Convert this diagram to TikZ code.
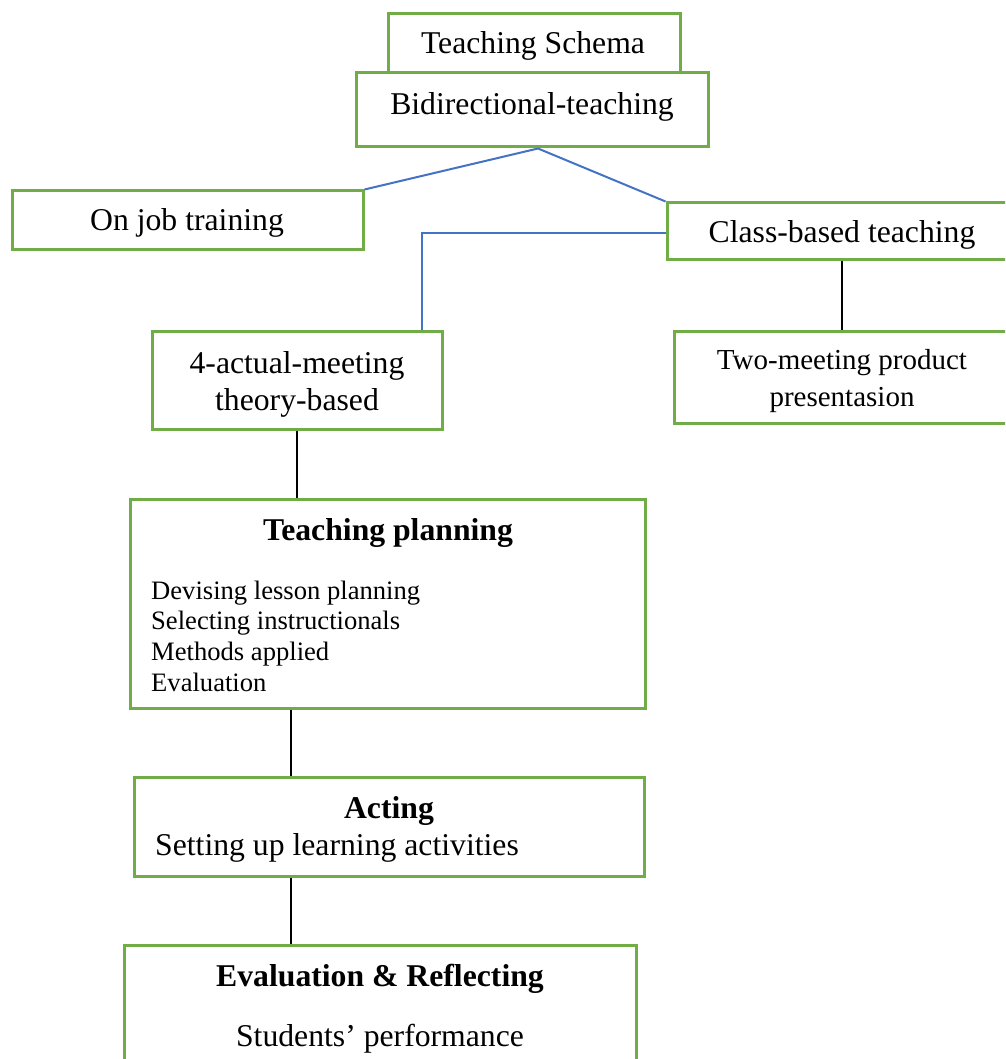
\documentclass[tikz,border=0pt]{standalone}
\usepackage{fontspec}
\setmainfont{Liberation Serif}
\definecolor{boxgreen}{RGB}{112,173,71}
\definecolor{linkblue}{RGB}{68,114,196}
\newcommand\mainfs{\fontsize{31.7}{37}\selectfont}
\newcommand\twofs{\fontsize{29}{37}\selectfont}
\newcommand\smallfs{\fontsize{26.6}{30.7}\selectfont}
\begin{document}
\begin{tikzpicture}[x=1pt,y=-1pt,
  box/.style={draw=boxgreen, line width=3pt, inner sep=0pt},
  txt/.style={inner sep=0pt, font=\mainfs},
  twotxt/.style={inner sep=0pt, font=\twofs},
  smalltxt/.style={inner sep=0pt, font=\smallfs},
  boldtxt/.style={inner sep=0pt, font=\mainfs\bfseries},
  bluelink/.style={draw=linkblue, line width=2pt},
  blacklink/.style={draw=black, line width=2pt}]
\clip (0,0) rectangle (1005,1059);
\fill[white] (0,0) rectangle (1005,1059);
% boxes
\node[box, minimum width=292, minimum height=59] (schema) at (534,43.5) {};
\node[box, minimum width=352, minimum height=74] (bidir) at (532,110) {};
\node[box, minimum width=351, minimum height=58] (onjob) at (187.5,220) {};
\node[box, minimum width=350, minimum height=56] (classbased) at (842,231) {};
\node[box, minimum width=290, minimum height=98] (actual) at (297,380) {};
\node[box, minimum width=336, minimum height=92] (twomeet) at (842,377) {};
\node[box, minimum width=515, minimum height=209] (planning) at (387.5,603.5) {};
\node[box, minimum width=510, minimum height=99] (acting) at (389,826.5) {};
\node[box, minimum width=512, minimum height=135] (eval) at (380,1012.5) {};
% texts
\node[txt] (t1) at (533,46) {Teaching Schema};
\node[txt] (t2) at (532,107) {Bidirectional-teaching};
\node[txt] (t3) at (187,223) {On job training};
\node[txt] (t4) at (842,235) {Class-based teaching};
\node[txt, align=center] (t5) at (297,384) {4-actual-meeting\\theory-based};
\node[twotxt, align=center] (t6) at (842,381) {Two-meeting product\\presentasion};
\node[boldtxt] (t7) at (388,533) {Teaching planning};
\node[smalltxt, align=left, anchor=west] (t8) at (151,636) {Devising lesson planning\\Selecting instructionals\\Methods applied\\Evaluation};
\node[boldtxt] (t9) at (389,811) {Acting};
\node[txt, anchor=west] (t10) at (155,848) {Setting up learning activities};
\node[boldtxt] (t11) at (380,979) {Evaluation \& Reflecting};
\node[txt] (t12) at (380,1039) {Students’ performance};
% connectors
\draw[bluelink] ([xshift=6]bidir.south) -- (onjob.north east);
\draw[bluelink] ([xshift=6]bidir.south) -- (classbased.north west);
\draw[bluelink] ([yshift=-2]classbased.west) -| ([xshift=-22]actual.north east);
\draw[blacklink] (classbased.south) -- (twomeet.north);
\draw[blacklink] (actual.south) -- (actual.south |- planning.north);
\draw[blacklink] ([xshift=-97]planning.south) -- ([xshift=-97]planning.south |- acting.north);
\draw[blacklink] ([xshift=-98]acting.south) -- ([xshift=-98]acting.south |- eval.north);
\end{tikzpicture}
\end{document}
